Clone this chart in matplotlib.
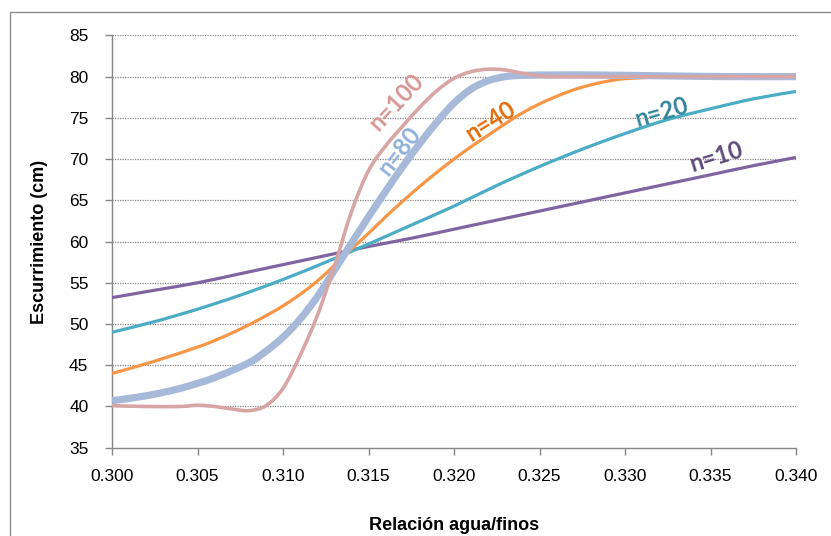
import matplotlib
matplotlib.use("Agg")
import matplotlib.pyplot as plt
from matplotlib.patches import Rectangle, PathPatch
from matplotlib.path import Path

plt.rcParams['font.family'] = ['Liberation Sans', 'DejaVu Sans']

# Relación agua/finos vs escurrimiento for several n values
x_n10 = [0.300, 0.3025, 0.305, 0.3075, 0.310, 0.3125, 0.315, 0.3175, 0.320,
         0.3225, 0.325, 0.3275, 0.330, 0.3325, 0.335, 0.3375, 0.340]
y_n10 = [53.2, 54.1, 55.0, 56.1, 57.2, 58.3, 59.4, 60.4, 61.5,
         62.6, 63.7, 64.8, 65.9, 67.0, 68.1, 69.2, 70.2]

x_n20 = [0.300, 0.3025, 0.305, 0.3075, 0.310, 0.3125, 0.315, 0.3175, 0.320,
         0.3225, 0.325, 0.3275, 0.330, 0.3325, 0.335, 0.3375, 0.340]
y_n20 = [49.0, 50.3, 51.8, 53.5, 55.4, 57.5, 59.7, 62.0, 64.3,
         66.8, 69.1, 71.2, 73.1, 74.8, 76.1, 77.3, 78.2]

x_n40 = [0.300, 0.3025, 0.305, 0.306, 0.307, 0.308, 0.309, 0.310, 0.311,
         0.312, 0.313, 0.314, 0.315, 0.316, 0.317, 0.318, 0.319, 0.320,
         0.321, 0.322, 0.323, 0.324, 0.325, 0.326, 0.327, 0.328, 0.329,
         0.330, 0.332, 0.334, 0.340]
y_n40 = [44.0, 45.5, 47.2, 48.0, 48.9, 49.9, 51.0, 52.2, 53.6,
         55.2, 57.1, 59.1, 61.0, 63.0, 64.9, 66.7, 68.4, 70.0,
         71.5, 72.9, 74.3, 75.6, 76.7, 77.6, 78.4, 79.0, 79.45,
         79.75, 79.95, 80.0, 80.0]

x_n80 = [0.300, 0.302, 0.304, 0.306, 0.308, 0.309, 0.310, 0.311, 0.312,
         0.313, 0.314, 0.315, 0.316, 0.317, 0.318, 0.319, 0.320, 0.321,
         0.322, 0.323, 0.324, 0.326, 0.328, 0.332, 0.336, 0.340]
y_n80 = [40.7, 41.3, 42.2, 43.5, 45.3, 46.7, 48.4, 50.6, 53.3,
         56.5, 59.8, 63.0, 66.1, 69.1, 71.9, 74.5, 76.8, 78.5,
         79.5, 80.0, 80.15, 80.2, 80.2, 80.1, 80.0, 80.0]

x_n100 = [0.300, 0.302, 0.304, 0.305, 0.306, 0.307, 0.308, 0.309, 0.310,
          0.311, 0.312, 0.313, 0.314, 0.315, 0.316, 0.317, 0.318, 0.319,
          0.320, 0.321, 0.322, 0.323, 0.324, 0.325, 0.326, 0.330, 0.335, 0.340]
y_n100 = [40.1, 40.0, 40.0, 40.15, 40.0, 39.7, 39.5, 40.1, 42.2,
          46.2, 51.0, 57.0, 63.6, 68.6, 71.6, 74.0, 76.3, 78.3,
          79.8, 80.6, 80.9, 80.8, 80.4, 80.1, 80.0, 80.0, 80.0, 80.0]

x_ticks = [0.300, 0.305, 0.310, 0.315, 0.320, 0.325, 0.330, 0.335, 0.340]
y_ticks = [35, 40, 45, 50, 55, 60, 65, 70, 75, 80, 85]

series = [
    (x_n10, y_n10, '#8064A2', 2.3),
    (x_n20, y_n20, '#4BACC6', 2.3),
    (x_n40, y_n40, '#F79646', 2.3),
    (x_n80, y_n80, '#A7B9D9', 5.2),
    (x_n100, y_n100, '#D8A5A5', 2.6),
]

# curve labels: text, x, y, rotation, colour
labels = [
    ('n=100', 0.31660, 76.9, 47, '#D99594'),
    ('n=80', 0.31680, 71.0, 52, '#8EB0DA'),
    ('n=40', 0.32211, 74.6, 32, '#E36C09'),
    ('n=20', 0.33215, 75.7, 16, '#31859C'),
    ('n=10', 0.33536, 70.3, 17, '#5F497A'),
]


def smooth_path(xs, ys):
    """Cubic Bezier path through the points (Catmull-Rom tangents)."""
    pts = list(zip(xs, ys))
    n = len(pts)
    verts = [pts[0]]
    codes = [Path.MOVETO]
    for i in range(n - 1):
        p0 = pts[max(i - 1, 0)]
        p1 = pts[i]
        p2 = pts[i + 1]
        p3 = pts[min(i + 2, n - 1)]
        c1 = (p1[0] + (p2[0] - p0[0]) / 6, p1[1] + (p2[1] - p0[1]) / 6)
        c2 = (p2[0] - (p3[0] - p1[0]) / 6, p2[1] - (p3[1] - p1[1]) / 6)
        verts += [c1, c2, p2]
        codes += [Path.CURVE4] * 3
    return Path(verts, codes)


fig = plt.figure(figsize=(8.31, 5.36), dpi=100)
ax = fig.add_axes([0.1348, 0.1647, 0.958 - 0.1348, 0.934 - 0.1647])

grid_c = '#868686'
for yv in y_ticks[1:]:
    ax.axhline(yv, color=grid_c, lw=0.9, ls=(0, (1, 1)), zorder=1)

for xs, ys, c, lw in series:
    ax.add_patch(PathPatch(smooth_path(xs, ys), fill=False, edgecolor=c,
                           lw=lw, capstyle='butt', zorder=3))

for txt, tx, ty, rot, c in labels:
    ax.text(tx, ty, txt, color=c, fontsize=17, fontweight='bold', rotation=rot,
            ha='center', va='center', rotation_mode='anchor', zorder=4,
            family=['Lato', 'DejaVu Sans'])

ax.set_xlim(0.300, 0.340)
ax.set_ylim(35, 85)
ax.set_xticks(x_ticks)
ax.set_xticklabels([f'{v:.3f}' for v in x_ticks])
ax.set_yticks(y_ticks)
ax.set_yticklabels([str(v) for v in y_ticks])

for side in ('top', 'right'):
    ax.spines[side].set_visible(False)
for side in ('left', 'bottom'):
    ax.spines[side].set_color(grid_c)
    ax.spines[side].set_linewidth(1.0)
ax.tick_params(axis='both', direction='out', length=5, width=1.0, color=grid_c,
               labelsize=12.5, labelcolor='black')
ax.tick_params(axis='y', pad=12)
ax.tick_params(axis='x', pad=10)

ax.set_xlabel('Relación agua/finos', fontsize=13, fontweight='bold', labelpad=24)
ax.set_ylabel('Escurrimiento (cm)', fontsize=13, fontweight='bold', labelpad=15)

# outer chart frame
fig.patches.append(Rectangle((10 / 831, -0.05), 1.1, 1 - 12 / 536 + 0.05,
                             transform=fig.transFigure, fill=False,
                             edgecolor='#8C8C8C', lw=1.0))

fig.savefig('out.png', dpi=100)
